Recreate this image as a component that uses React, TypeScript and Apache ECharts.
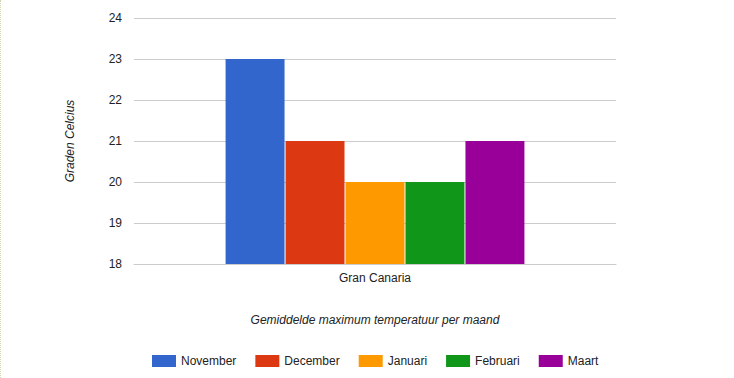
import React, { useEffect, useRef } from "react";
import * as echarts from "echarts";

const categories = ["Gran Canaria"];
const seriesNames = ["November", "December", "Januari", "Februari", "Maart"];
const seriesValues = [[23], [21], [20], [20], [21]];
const seriesColors = ["#3366cc", "#dc3912", "#ff9900", "#109618", "#990099"];
const yTicks = { min: 18, max: 24, interval: 1 };
const yTitle = "Graden Celcius";
const xTitle = "Gemiddelde maximum temperatuur per maand";

const FONT = "Arial, 'Liberation Sans', sans-serif";

export default function App() {
  const ref = useRef<HTMLDivElement>(null);
  useEffect(() => {
    if (!ref.current) return;
    const chart = echarts.init(ref.current, undefined, { renderer: "svg" });
    chart.setOption({
      animation: false,
      backgroundColor: "#fff",
      textStyle: { fontFamily: FONT },
      grid: { left: 134, right: 118, top: 18, bottom: 114 },
      legend: {
        data: seriesNames,
        top: 355,
        left: 152,
        padding: 0,
        itemWidth: 24,
        itemHeight: 12,
        itemGap: 19,
        icon: "rect",
        textStyle: { fontFamily: FONT, fontSize: 12, color: "#222" },
      },
      xAxis: {
        type: "category",
        data: categories,
        axisTick: { show: false },
        axisLine: { lineStyle: { color: "#cccccc" } },
        axisLabel: { fontFamily: FONT, fontSize: 12, color: "#222", margin: 8 },
      },
      yAxis: {
        type: "value",
        min: yTicks.min,
        max: yTicks.max,
        interval: yTicks.interval,
        name: yTitle,
        nameLocation: "middle",
        nameRotate: 90,
        nameGap: 58,
        nameTextStyle: { fontFamily: FONT, fontSize: 12, fontStyle: "italic", color: "#222" },
        axisLine: { show: false },
        axisTick: { show: false },
        axisLabel: { fontFamily: FONT, fontSize: 12, color: "#222", margin: 12 },
        splitLine: { lineStyle: { color: "#cccccc" } },
      },
      graphic: [
        {
          type: "text",
          x: 375,
          y: 320,
          style: {
            text: xTitle,
            font: `italic 12px ${FONT}`,
            fill: "#222",
            align: "center",
            verticalAlign: "middle",
          },
        },
      ],
      series: seriesNames.map((name, i) => ({
        name,
        type: "bar",
        data: seriesValues[i],
        barGap: "1.7%",
        barCategoryGap: "38%",
        itemStyle: { color: seriesColors[i] },
      })),
    });
    return () => chart.dispose();
  }, []);
  return (
    <div style={{ position: "fixed", left: 0, top: 0, width: 734, height: 378, background: "#fff" }}>
      <div ref={ref} style={{ width: 734, height: 378 }} />
      <div
        style={{
          position: "absolute",
          left: 0,
          top: 0,
          width: 0,
          height: 378,
          borderLeft: "1px dotted #cfd6b0",
        }}
      />
    </div>
  );
}
